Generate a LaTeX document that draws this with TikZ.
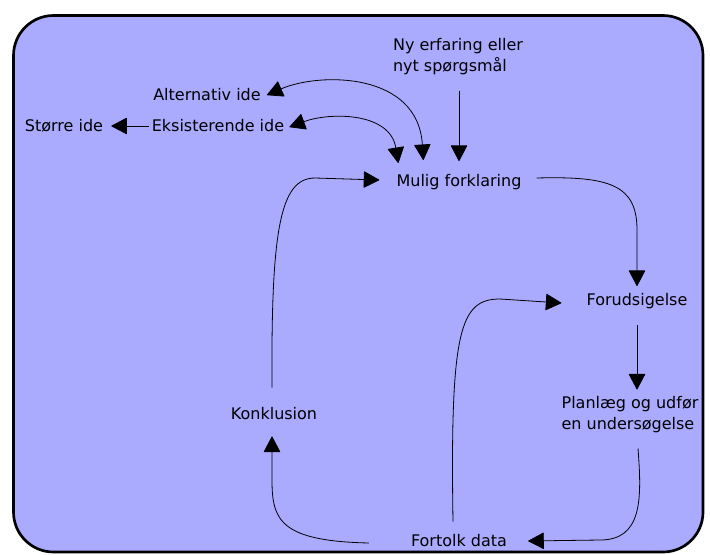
\documentclass[tikz,border=0pt]{standalone}
\usepackage{fontspec}
\setmainfont{DejaVu Sans}
\usetikzlibrary{arrows.meta,calc,positioning}
\definecolor{panelblue}{HTML}{AAAAFF}
\tikzset{
  panel/.style = {draw=black, line width=2pt, fill=panelblue,
                  rounded corners=30pt},
  stage/.style = {inner sep=0pt, align=left,
                  font=\fontsize{12}{15.75}\selectfont},
}

\begin{document}
\begin{tikzpicture}[
        x = 0.75pt, y = -0.75pt,
        link/.style   = {draw, line width=0.6pt,
                         -{Triangle[length=12pt, width=12.5pt, round]}},
        twoway/.style = {draw, line width=0.6pt,
                         {Triangle[length=12pt, width=12.5pt, round]}-{Triangle[length=12pt, width=12.5pt, round]}}
    ]
    \useasboundingbox (0,0) rectangle (710,554);
    \draw[panel] (13.5,15.5) rectangle (703,552);

    % steps of the cycle
    \node[stage] (nyerf)   at (458,57)  {Ny erfaring eller\\nyt spørgsmål};
    \node[stage] (altide)  at (207,95)  {Alternativ ide};
    \node[stage] (eksist)  at (218,126) {Eksisterende ide};
    \node[stage] (stoerre) at (64,126)  {Større ide};
    \node[stage] (mulig)   at (459,182) {Mulig forklaring};
    \node[stage] (forud)   at (637,301) {Forudsigelse};
    \node[stage] (plan)    at (630,415) {Planlæg og udfør\\en undersøgelse};
    \node[stage] (konkl)   at (274,414) {Konklusion};
    \node[stage] (fortolk) at (459,541) {Fortolk data};

    % connectors
    \draw[link] ($(nyerf.south)+(1,15)$) -- ($(mulig.north)+(0,-13)$);
    \draw[twoway] ($(altide.east)+(6,0)$)
        .. controls (320,72) and (418,72) .. ($(mulig.north west)+(27,-14)$);
    \draw[twoway] ($(eksist.east)+(5,1)$)
        .. controls (330,112) and (390,112) .. ($(mulig.north west)+(2,-11)$);
    \draw[link] ($(eksist.west)+(-3,0)$) -- ($(stoerre.east)+(8,0)$);
    \draw[link] ($(konkl.north)+(-2,-20)$)
        .. controls (271,230) and (280,178) .. (315,178)
        -- ($(mulig.west)+(-17,-2)$);
    \draw[link] ($(mulig.east)+(15,-4)$)
        .. controls (610,176) and (637,185) .. (637,230)
        -- ($(forud.north)+(0,-7)$);
    \draw[link] ($(forud.south)+(0,16)$) -- ($(plan.north)+(7,-7)$);
    \draw[link] ($(plan.south)+(8,15)$)
        .. controls (642,500) and (642,540) .. (600,540)
        -- ($(fortolk.east)+(21,0)$);
    \draw[link] ($(fortolk.north)+(-6,-13)$)
        .. controls (450,330) and (460,299) .. (500,299)
        -- ($(forud.west)+(-25,2)$);
    \draw[link] ($(fortolk.west)+(-42,2)$)
        .. controls (280,541) and (272,520) .. (272,480)
        -- ($(konkl.south)+(-2,16)$);
\end{tikzpicture}
\end{document}
